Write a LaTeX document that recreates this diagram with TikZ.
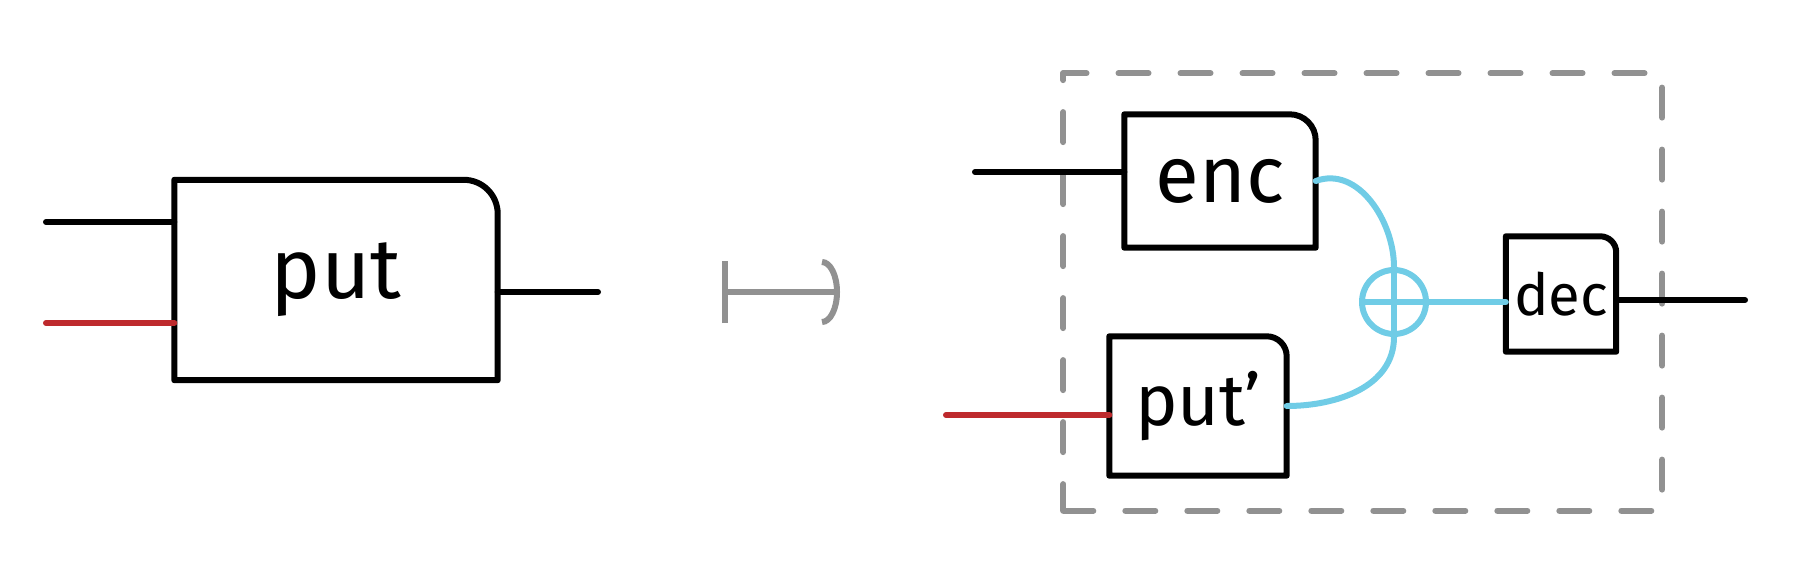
\documentclass[tikz,border=0pt]{standalone}
\usepackage{fontspec}
\setmainfont{Fira Sans}
\usepackage{xcolor}
\usepackage{tikz}
\usetikzlibrary{arrows.meta, positioning, fit, calc}

\definecolor{wirered}{RGB}{190,42,45}
\definecolor{wirecyan}{RGB}{112,204,230}
\definecolor{sketchgray}{RGB}{145,145,145}

\begin{document}
\begin{tikzpicture}[
    x=1pt, y=1pt,
    line cap=round,
    line join=round,
    box/.style={
        rectangle,
        draw=none,
        inner sep=0pt,
        align=center
    },
    boxline/.style={
        draw=black,
        line width=6pt
    },
    wire/.style={
        draw=black,
        line width=6pt
    },
    redwire/.style={
        draw=wirered,
        line width=6pt
    },
    cyanwire/.style={
        draw=wirecyan,
        line width=6pt
    },
    sumnode/.style={
        circle,
        draw=wirecyan,
        line width=6pt,
        minimum size=64pt,
        inner sep=0pt,
        path picture={
            \draw[wirecyan, line width=6pt]
                (path picture bounding box.north) -- (path picture bounding box.south)
                (path picture bounding box.west) -- (path picture bounding box.east);
        }
    },
    dashbox/.style={
        rectangle,
        draw=sketchgray,
        line width=6pt,
        dash pattern=on 30pt off 32pt,
        inner xsep=46pt,
        inner ysep=38pt
    },
    mapsto/.style={
        draw=sketchgray,
        line width=6pt,
        {Bar[width=62pt]}-{Arc Barb[length=18pt, width=66pt]}
    }
]
\useasboundingbox (0,0) rectangle (1810,-562);

% Nodes
\node [box, minimum width=323pt, minimum height=200pt, font=\fontsize{85}{85}\selectfont] (put) at (336,-280) {put};
\node [box, minimum width=191pt, minimum height=133pt, font=\fontsize{80}{80}\selectfont] (enc) at (1220,-181) {enc};
\node [box, minimum width=177pt, minimum height=139pt, font=\fontsize{72}{72}\selectfont] (putb) at (1198,-406) {put’};
\node [box, minimum width=110pt, minimum height=115pt, font=\fontsize{58}{58}\selectfont] (dec) at (1561,-294) {dec};
\node [sumnode] (sum) at (1394,-302) {};
\node [dashbox, fit=(enc)(putb)(dec), yshift=3pt] (lens) {};

% Box outlines, rounded top right corner
\foreach \n/\r in {put/34, enc/26, putb/20, dec/16}
    \draw [boxline] (\n.south west) -- (\n.north west) -- ([xshift=-\r pt]\n.north east)
        to[out=0, in=90] ([yshift=-\r pt]\n.north east) -- (\n.south east) -- cycle;

% Free wire ends
\coordinate (inA) at (46,-222);
\coordinate (inR) at (46,-323);
\coordinate (outA) at (598,-292);
\coordinate (mapL) at (722,-292);
\coordinate (mapR) at (840,-292);
\coordinate (inB) at (975,-172);
\coordinate (inC) at (946,-415);
\coordinate (outB) at (1745,-300);

% Edges
\path [wire] (inA) -- (inA -| put.west);
\path [redwire] (inR) -- (inR -| put.west);
\path [wire] (put.east |- outA) -- (outA);
\path [mapsto] (mapL) -- (mapR);
\path [wire] (inB) -- (inB -| enc.west);
\path [redwire] (inC) -- (inC -| putb.west);
\path [cyanwire] (enc.east) to[out=20, in=90] (sum.north);
\path [cyanwire] (putb.east) to[out=0, in=-90] (sum.south);
\path [cyanwire] (sum.east) -- (sum.east -| dec.west);
\path [wire] (dec.east |- outB) -- (outB);

\end{tikzpicture}
\end{document}
